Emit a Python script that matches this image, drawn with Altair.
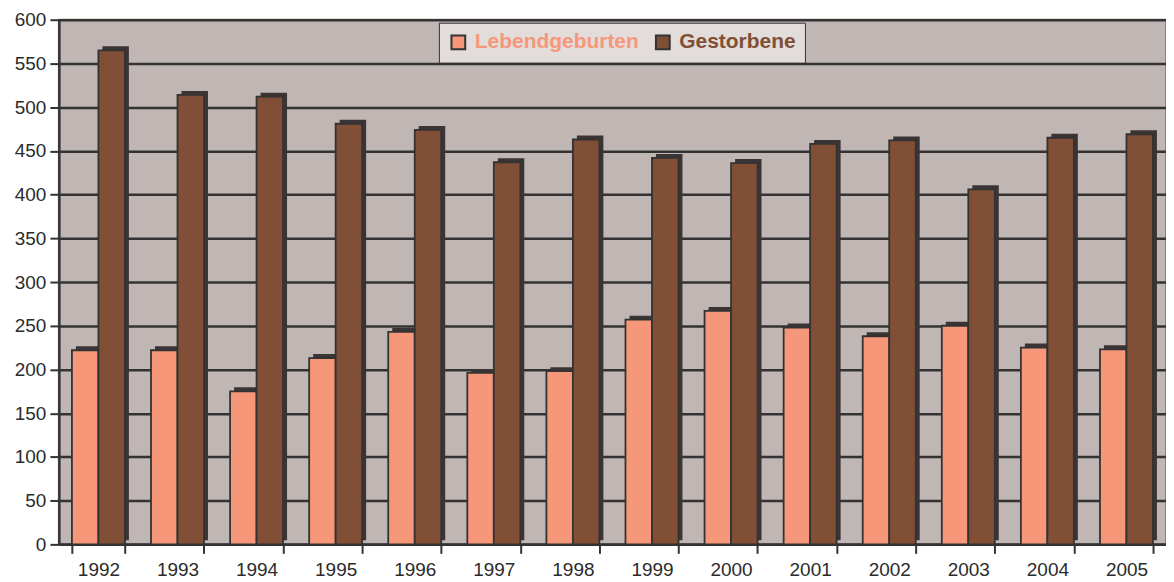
import altair as alt
import pandas as pd

years = [str(y) for y in range(1992, 2006)]
lebend = [222, 222, 175, 213, 243, 196, 198, 257, 267, 248, 238, 250, 225, 223]
gestorben = [565, 514, 512, 481, 474, 437, 463, 442, 436, 458, 462, 406, 465, 469]
series = ["Lebendgeburten", "Gestorbene"]
colors = ["#F7977A", "#814F35"]
y_ticks = list(range(0, 601, 50))

rows = []
for i, yr in enumerate(years):
    rows.append({"Jahr": yr, "Reihe": series[0], "Wert": lebend[i]})
    rows.append({"Jahr": yr, "Reihe": series[1], "Wert": gestorben[i]})
df = pd.DataFrame(rows)

FONT = "Liberation Sans"
W, H = 1110, 526
P_IN, P_OUT = 0.33, 0.165
step = W / (len(years) - P_IN + 2 * P_OUT)
bw = step * (1 - P_IN)
D = 4  # 3D depth in px

x_enc = alt.X(
    "Jahr:N", sort=years, title=None,
    scale=alt.Scale(paddingInner=P_IN, paddingOuter=P_OUT),
    axis=alt.Axis(labelAngle=0, tickBand="extent", tickSize=9, labelPadding=7,
                  grid=False, domainColor="#333333", domainWidth=2.5,
                  tickColor="#333333", tickWidth=2, labelColor="#2b2b2b",
                  labelFontSize=19, labelFont=FONT),
)
y_enc = alt.Y(
    "Wert:Q", title=None,
    scale=alt.Scale(domain=[0, 600], nice=False, zero=True),
    axis=alt.Axis(values=y_ticks, tickSize=9, labelPadding=4, grid=True,
                  gridColor="#333333", gridWidth=2.5, domainColor="#333333",
                  domainWidth=2.5, tickColor="#333333", tickWidth=2,
                  labelColor="#2b2b2b", labelFontSize=19, labelFont=FONT),
)

shadow = alt.Chart(df).mark_bar(color="#3a3434", yOffset=-D).encode(
    x=x_enc, y=y_enc,
    xOffset=alt.XOffset("Reihe:N", sort=series,
                        scale=alt.Scale(range=[D, bw + D], paddingInner=0, paddingOuter=0)),
)

front = alt.Chart(df).mark_bar(stroke="#333333", strokeWidth=1.8).encode(
    x=x_enc, y=y_enc,
    xOffset=alt.XOffset("Reihe:N", sort=series,
                        scale=alt.Scale(range=[0, bw], paddingInner=0, paddingOuter=0)),
    color=alt.Color(
        "Reihe:N", sort=series,
        scale=alt.Scale(domain=series, range=colors),
        legend=alt.Legend(
            title=None, orient="none", legendX=381, legendY=3,
            direction="horizontal", fillColor="#E2DCDA", strokeColor="#333333",
            padding=9, symbolType="square", symbolSize=190,
            symbolStrokeColor="#333333", symbolStrokeWidth=2, symbolOpacity=1,
            labelFont=FONT, labelFontSize=21, labelFontWeight="bold",
            labelLimit=400,
            labelColor=alt.ExprRef("datum.label == 'Gestorbene' ? '#814F35' : '#F7977A'"),
            columnPadding=12, labelOffset=6,
        ),
    ),
)

chart = alt.layer(shadow, front).resolve_scale(xOffset="independent").properties(
    width=W, height=H,
    autosize=alt.AutoSizeParams(type="none"),
    padding={"left": 51, "top": 11, "right": 0, "bottom": 36},
).configure_view(fill="#C0B6B4", stroke="#8f817d", strokeWidth=2)

chart.save("out.html", embed_options={"renderer": "svg", "actions": False})
